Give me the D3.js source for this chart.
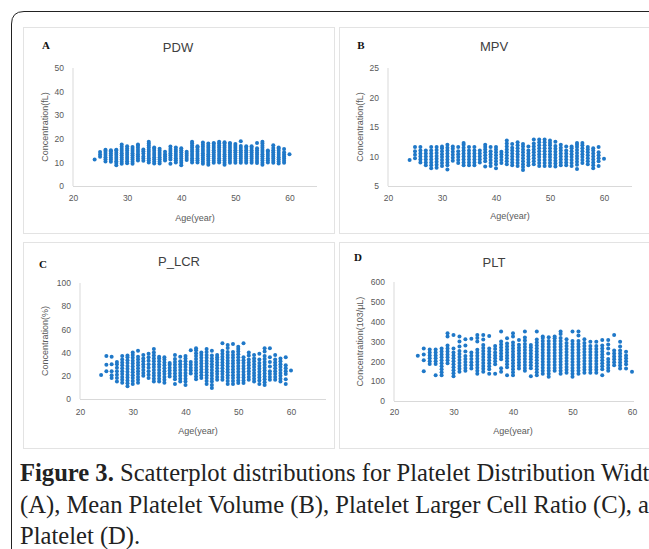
<!DOCTYPE html>
<html>
<head>
<meta charset="utf-8">
<script src="https://cdn.jsdelivr.net/npm/d3@7"></script>
<style>
  body { margin: 0; background: #fff; }
  svg { display: block; }
  .tick text { font-family: "Liberation Sans", Arial, sans-serif; font-size: 8.5px; fill: #595959; }
</style>
</head>
<body>
<svg id="chart" width="649" height="549"></svg>
<script>
// ages on the x axis (one column of dots per age)
const ages = d3.range(24, 61)

const xTicks = [20, 30, 40, 50, 60]

// PDW (fL)
const pdwValues = [
  [11.2],
  [12.4, 13.3, 14.4],
  [10.4, 11.3, 12.2, 13.1, 14.0, 14.8, 15.4],
  [10.3, 11.2, 12.1, 13.0, 13.9, 14.7, 15.2],
  [8.8, 9.7, 10.5, 11.4, 12.3, 13.2, 14.1, 15.0, 15.4],
  [9.4, 10.3, 11.2, 12.1, 13.0, 13.9, 14.8, 15.7, 16.6, 17.6],
  [9.6, 10.5, 11.4, 12.3, 13.2, 14.1, 15.0, 15.9, 16.8],
  [9.4, 10.3, 11.2, 12.1, 13.0, 13.9, 14.8, 15.7, 16.5],
  [10.8, 11.7, 12.6, 13.5, 14.4, 15.3, 16.2, 17.1, 17.6],
  [10.7, 11.6, 12.5, 13.8, 14.7, 15.5],
  [10.0, 10.9, 11.8, 12.7, 13.6, 14.5, 15.4, 16.3, 17.2, 18.0, 18.7],
  [9.5, 10.4, 11.3, 12.2, 13.1, 14.0, 14.9, 15.8, 16.3],
  [9.5, 10.4, 11.3, 12.2, 13.1, 14.0, 14.9, 15.8],
  [10.8, 11.7, 12.6, 13.5, 14.5],
  [9.4, 11.2, 12.1, 13.0, 13.9, 14.8, 15.7, 16.7],
  [10.0, 10.9, 11.8, 12.7, 13.6, 14.5, 15.4, 16.3],
  [8.8, 9.8, 10.7, 11.6, 12.5, 13.4, 14.3, 15.2, 16.0],
  [11.0, 11.9, 12.8, 13.7, 14.5],
  [10.0, 10.9, 11.8, 12.7, 13.6, 14.5, 15.4, 16.3, 17.2, 18.1, 18.7],
  [10.0, 10.9, 11.8, 12.7, 13.6, 14.5, 15.4, 16.3, 16.8],
  [9.4, 10.3, 11.2, 12.1, 13.0, 13.9, 14.8, 15.7, 16.6, 17.5, 18.4],
  [9.0, 9.9, 10.8, 11.7, 12.6, 13.5, 14.4, 15.3, 16.2, 17.1, 18.0],
  [9.8, 10.7, 11.6, 12.5, 13.4, 14.3, 15.2, 16.1, 17.0, 17.9, 18.2],
  [10.0, 10.9, 11.8, 12.7, 13.6, 14.5, 15.4, 16.3, 17.2, 18.1, 18.7],
  [9.0, 9.9, 10.8, 11.7, 12.6, 13.5, 14.4, 15.3, 16.2, 17.1, 18.0, 18.5],
  [9.8, 10.7, 11.6, 12.5, 13.4, 14.3, 15.2, 16.1, 17.0, 17.9, 18.2],
  [9.8, 10.7, 11.6, 12.5, 13.4, 14.3, 15.2, 16.1, 17.0, 17.8],
  [9.8, 10.7, 11.6, 12.5, 13.4, 14.3, 15.2, 16.1, 17.0, 19.0],
  [9.8, 10.7, 11.6, 12.5, 13.4, 14.3, 15.2, 16.1, 16.8],
  [9.8, 10.7, 11.6, 12.5, 13.4, 14.3, 15.2, 16.1, 16.8],
  [9.7, 10.6, 11.5, 12.4, 13.3, 14.2, 15.1, 16.0, 18.2],
  [9.0, 9.9, 10.8, 11.7, 12.6, 13.5, 14.4, 15.3, 16.2, 17.1, 18.0, 18.8],
  [10.0, 10.9, 11.8, 12.7, 13.6, 14.5, 15.0],
  [9.8, 10.7, 11.6, 12.5, 13.4, 14.3, 15.2, 16.1, 17.3],
  [9.5, 10.4, 11.3, 12.2, 13.1, 14.0, 14.9, 15.8, 16.3],
  [9.8, 10.7, 11.6, 12.5, 13.4, 14.3, 15.7],
  [13.5]
]

// MPV (fL)
const mpvValues = [
  [9.4],
  [9.7, 10.3, 10.9, 11.6],
  [9.0, 9.5, 10.0, 10.5, 11.0, 11.6],
  [8.5, 9.0, 9.5, 10.0, 10.5, 11.0],
  [8.0, 8.5, 9.0, 9.5, 10.0, 10.5, 11.0, 11.6],
  [8.1, 8.6, 9.1, 9.6, 10.1, 10.6, 11.1, 11.6],
  [8.4, 8.9, 9.4, 9.9, 10.4, 10.9, 11.4, 11.7],
  [7.8, 8.5, 9.0, 9.5, 10.0, 10.5, 11.0, 11.5, 12.0],
  [9.3, 9.8, 10.3, 10.8, 11.3, 11.7],
  [8.9, 9.4, 9.9, 10.4, 10.9, 11.6],
  [8.5, 9.0, 9.5, 10.0, 10.5, 11.0, 11.5, 12.0, 12.3],
  [8.5, 9.0, 9.5, 10.0, 10.5, 11.0, 11.6],
  [8.5, 9.0, 9.5, 10.0, 10.5, 11.0, 11.6],
  [9.0, 9.5, 10.0, 10.5, 11.0],
  [8.3, 9.2, 9.7, 10.2, 10.7, 11.2, 11.6, 12.0],
  [8.4, 8.9, 9.4, 9.9, 10.4, 10.9, 11.6],
  [8.0, 8.7, 9.2, 9.7, 10.2, 10.7, 11.2, 11.6],
  [8.9, 9.4, 9.9, 10.4, 10.8],
  [8.7, 9.2, 9.7, 10.2, 10.7, 11.2, 11.7, 12.2, 12.7],
  [8.5, 9.0, 9.5, 10.0, 10.5, 11.0, 11.5, 12.1],
  [8.4, 8.9, 9.4, 9.9, 10.4, 10.9, 11.4, 11.9, 12.4],
  [7.7, 8.2, 8.7, 9.2, 9.7, 10.2, 10.7, 11.2, 11.7, 12.1],
  [8.5, 9.0, 9.5, 10.0, 10.5, 11.0, 11.7],
  [8.7, 9.2, 9.7, 10.2, 10.7, 11.2, 11.7, 12.2, 12.9],
  [8.4, 8.9, 9.4, 9.9, 10.4, 10.9, 11.4, 11.9, 12.4, 12.9],
  [8.4, 8.9, 9.4, 9.9, 10.4, 10.9, 11.4, 11.9, 12.4, 12.9],
  [8.4, 8.9, 9.4, 9.9, 10.4, 10.9, 11.4, 11.9, 12.3, 12.7],
  [8.3, 8.8, 9.3, 9.8, 10.3, 10.8, 11.3, 11.8, 12.5],
  [8.5, 9.0, 9.5, 10.0, 10.5, 11.0, 11.5, 12.0],
  [8.5, 9.0, 9.5, 10.0, 10.5, 11.0, 11.7],
  [8.4, 8.9, 9.4, 9.9, 10.4, 10.9, 11.4, 11.7],
  [7.9, 8.6, 9.1, 9.6, 10.1, 10.6, 11.1, 11.6, 12.0, 12.3],
  [8.9, 9.4, 9.9, 10.4, 10.9, 11.4, 11.9, 12.3],
  [8.7, 9.2, 9.7, 10.2, 10.7, 11.2, 11.6],
  [8.0, 8.5, 9.0, 9.5, 10.0, 10.5, 11.0, 11.4],
  [8.4, 9.2, 9.7, 10.2, 10.7, 11.6],
  [9.6]
]

// P_LCR (%)
const plcrValues = [
  [20.6],
  [24, 29.5, 37],
  [18, 20.5, 24, 30, 36.5],
  [15, 18, 21, 24, 27, 30, 32],
  [14, 16.5, 19, 21.5, 24, 26.5, 29, 31.5, 34, 37],
  [11, 13.5, 16, 18.5, 21, 23.5, 26, 28.5, 31, 33.5, 36, 37.5],
  [13, 15.5, 18, 20.5, 23, 25.5, 28, 30.5, 33, 35.5, 38, 40],
  [14, 16.5, 19, 21.5, 24, 26.5, 29, 31.5, 34, 36.5, 41.7],
  [20, 22.5, 25, 27.5, 30, 32.5, 35, 38],
  [18, 21, 24, 27, 30, 33, 36, 39],
  [15, 17.5, 20, 22.5, 25, 27.5, 30, 32.5, 35, 37.5, 40, 43],
  [15, 17.5, 20, 22.5, 25, 27.5, 30, 32.5, 35, 36.5],
  [14, 16.5, 19, 21.5, 24, 26.5, 29, 31.5, 34, 36],
  [19.5, 22, 24.5, 27, 29.5, 31],
  [13, 17, 19.5, 22, 24.5, 27, 29.5, 32, 34.5, 38],
  [15, 17.5, 20, 22.5, 25, 27.5, 30, 32.5, 36.5],
  [12, 15, 17.5, 20, 22.5, 25, 27.5, 30, 32.5, 35, 37],
  [22, 24.5, 27, 29.5, 32, 42],
  [17, 19.5, 22, 24.5, 27, 29.5, 32, 34.5, 37, 39.5, 42, 43.7],
  [18, 20.5, 23, 25.5, 28, 30.5, 33, 35.5, 38, 40],
  [13, 15.5, 18, 20.5, 23, 25.5, 28, 30.5, 33, 35.5, 38, 40.5, 43],
  [9.4, 12, 15, 17.5, 20, 22.5, 25, 27.5, 30, 32.5, 35, 37.5, 41.7],
  [16.5, 19, 21.5, 24, 26.5, 29, 31.5, 34, 36, 38],
  [16.5, 19, 21.5, 24, 26.5, 29, 31.5, 34, 36.5, 39, 41.5, 48],
  [13, 15.5, 18, 20.5, 23, 25.5, 28, 30.5, 33, 35.5, 38, 40.5, 44, 46.5],
  [13, 15.5, 18, 20.5, 23, 25.5, 28, 30.5, 33, 35.5, 38, 40.5, 47.4],
  [13.7, 16, 18.5, 21, 23.5, 26, 28.5, 31, 33.5, 36, 38.5, 41, 43, 45],
  [13.7, 16, 18.5, 21, 23.5, 26, 28.5, 31, 33.5, 36, 48],
  [16.5, 19, 21.5, 24, 26.5, 29, 31.5, 34, 37.5, 40],
  [15, 17.5, 20, 22.5, 25, 27.5, 30, 32.5, 35, 38],
  [13, 16, 18.5, 21, 23.5, 26, 28.5, 31, 34, 39],
  [12, 14.5, 17, 19.5, 22, 24.5, 27, 29.5, 32, 34.5, 37, 41, 43.7],
  [16.5, 19, 21.5, 24, 28, 32, 36, 43.7],
  [16.5, 19, 21.5, 24, 26.5, 29, 31.5, 34, 38],
  [15, 17.5, 20, 22.5, 25, 27.5, 30, 32.5, 35],
  [13, 17, 21.5, 24, 26.5, 29, 36],
  [24.5]
]

// PLT (10^3/uL)
const pltValues = [
  [228],
  [150, 205, 235, 265],
  [186, 200, 215, 230, 245, 260],
  [130, 186, 200, 215, 230, 245, 260],
  [130, 145, 160, 175, 190, 205, 220, 235, 250, 265],
  [190, 205, 220, 235, 250, 265, 280, 325, 341],
  [125, 140, 155, 170, 185, 200, 215, 230, 245, 265, 333],
  [147, 162, 177, 192, 207, 222, 237, 252, 275, 300, 325],
  [152, 167, 182, 197, 212, 227, 250, 280, 311],
  [164, 180, 196, 212, 228, 244, 314],
  [138, 153, 168, 183, 198, 213, 228, 243, 258, 300, 318, 333],
  [147, 162, 177, 192, 207, 222, 237, 252, 267, 282, 310, 333],
  [138, 160, 175, 190, 205, 220, 235, 250, 265, 328],
  [138, 185, 200, 215, 230, 245, 262, 277],
  [147, 165, 210, 225, 240, 255, 270, 285, 300, 350],
  [130, 170, 185, 200, 215, 230, 245, 260, 275, 290, 316],
  [130, 145, 160, 175, 190, 205, 220, 235, 250, 265, 280, 295, 325, 341],
  [164, 179, 194, 209, 224, 239, 254, 269, 284, 307],
  [152, 167, 182, 197, 212, 227, 242, 257, 272, 287, 305, 320, 350],
  [125, 165, 180, 195, 210, 225, 240, 255, 270, 282],
  [130, 145, 160, 175, 190, 205, 220, 235, 250, 265, 280, 295, 310, 350],
  [138, 153, 168, 183, 198, 213, 228, 243, 258, 273, 288, 303, 318, 325],
  [122, 137, 152, 167, 182, 197, 212, 227, 242, 257, 272, 287, 302, 321],
  [152, 167, 182, 197, 212, 227, 242, 257, 272, 287, 302, 317, 325],
  [138, 153, 168, 183, 198, 213, 228, 243, 258, 273, 288, 303, 318, 338, 350],
  [142, 157, 172, 187, 202, 217, 232, 247, 262, 277, 292, 311],
  [122, 137, 152, 167, 182, 197, 212, 227, 242, 257, 272, 287, 302, 350],
  [138, 153, 168, 183, 198, 213, 228, 243, 258, 273, 288, 303, 330, 350],
  [142, 157, 172, 187, 202, 217, 232, 247, 262, 277, 292, 311],
  [142, 157, 172, 187, 202, 217, 232, 247, 262, 277, 299],
  [142, 157, 172, 187, 202, 217, 232, 247, 262, 277, 299],
  [130, 160, 175, 190, 205, 220, 235, 250, 265, 280, 307],
  [152, 167, 182, 197, 212, 240, 265, 285, 307],
  [180, 195, 210, 225, 240, 255, 333],
  [164, 179, 194, 209, 224, 239, 255, 275, 299],
  [164, 185, 200, 215, 230, 248],
  [147]
]

const panelLetters = ["A", "B", "C", "D"]
const panelTitles = ["PDW", "MPV", "P_LCR", "PLT"]
const yTitles = ["Concentration(fL)", "Concentration(fL)", "Concentration(%)", "Concentration(103/μL)"]
const yTicks = [
  [0, 10, 20, 30, 40, 50],
  [5, 10, 15, 20, 25],
  [0, 20, 40, 60, 80, 100],
  [0, 100, 200, 300, 400, 500, 600]
]

const captionLines = [
  ["Figure 3.", " Scatterplot distributions for Platelet Distribution Width"],
  ["", "(A), Mean Platelet Volume (B), Platelet Larger Cell Ratio (C), and"],
  ["", "Platelet (D)."]
]

// pixel layout of each panel (box, plot area, label spots)
const layout = [
  { box: [23, 27, 311, 206], x20: 73, x60: 289.5, xEnd: 317, yTop: 68, yBot: 186, letter: [46, 45], title: [178, 47], xt: [195, 218], tickY: 199, yt: 45 },
  { box: [339, 27, 312, 206], x20: 388, x60: 604, xEnd: 632, yTop: 68, yBot: 186, letter: [361, 45], title: [494, 46], xt: [510, 216], tickY: 199, yt: 360 },
  { box: [23, 242, 311, 206], x20: 80, x60: 291, xEnd: 326, yTop: 283, yBot: 399, letter: [43, 264], title: [179, 261], xt: [198, 431], tickY: 413, yt: 45 },
  { box: [339, 242, 312, 206], x20: 394, x60: 632, xEnd: 634, yTop: 282, yBot: 401, letter: [358, 257], title: [494, 262], xt: [513, 431], tickY: 413, yt: 360 }
]

const allValues = [pdwValues, mpvValues, plcrValues, pltValues]
const dotColor = "#1f78c8"
const axisColor = "#d9d9d9"

const svg = d3.select("#chart")

// outer frame with rounded top-left corner
svg.append("path")
  .attr("d", "M11.5,549 L11.5,24 Q11.5,11.5 24,11.5 L649,11.5")
  .attr("fill", "none")
  .attr("stroke", "#222")
  .attr("stroke-width", 1)

layout.forEach((L, i) => {
  const g = svg.append("g")

  g.append("rect")
    .attr("x", L.box[0] + 0.5).attr("y", L.box[1] + 0.5)
    .attr("width", L.box[2]).attr("height", L.box[3])
    .attr("fill", "#fff")
    .attr("stroke", "#e3e3e3")

  const ticks = yTicks[i]
  const x = d3.scaleLinear().domain([20, 60]).range([L.x20, L.x60])
  const y = d3.scaleLinear().domain([ticks[0], ticks[ticks.length - 1]]).range([L.yBot, L.yTop])

  // axis lines
  g.append("line")
    .attr("x1", L.x20).attr("x2", L.x20)
    .attr("y1", L.yTop).attr("y2", L.yBot)
    .attr("stroke", axisColor)
  g.append("line")
    .attr("x1", L.x20).attr("x2", L.xEnd)
    .attr("y1", L.yBot + 0.5).attr("y2", L.yBot + 0.5)
    .attr("stroke", axisColor)

  const yAxis = g.append("g")
    .attr("transform", `translate(${L.x20 - 9},0)`)
    .call(d3.axisLeft(y).tickValues(ticks).tickSize(0).tickPadding(0))
  yAxis.select(".domain").remove()

  const xAxis = g.append("g")
    .attr("transform", `translate(0,${L.tickY - 4})`)
    .call(d3.axisBottom(x).tickValues(xTicks).tickSize(0).tickPadding(0))
  xAxis.select(".domain").remove()

  // dots
  const points = ages.flatMap((a, j) => allValues[i][j].map(v => ({ age: a, value: v })))
  g.append("g")
    .selectAll("circle")
    .data(points)
    .join("circle")
    .attr("cx", d => x(d.age))
    .attr("cy", d => y(d.value))
    .attr("r", 2)
    .attr("fill", dotColor)

  g.append("text")
    .attr("x", L.title[0]).attr("y", L.title[1])
    .attr("text-anchor", "middle").attr("dominant-baseline", "central")
    .attr("font-family", "Liberation Sans, Arial, sans-serif")
    .attr("font-size", 13)
    .attr("fill", "#404040")
    .text(panelTitles[i])

  g.append("text")
    .attr("x", L.letter[0]).attr("y", L.letter[1])
    .attr("text-anchor", "middle").attr("dominant-baseline", "central")
    .attr("font-family", "Liberation Serif, Times New Roman, serif")
    .attr("font-weight", "bold")
    .attr("font-size", 11)
    .attr("fill", "#111")
    .text(panelLetters[i])

  g.append("text")
    .attr("x", L.xt[0]).attr("y", L.xt[1])
    .attr("text-anchor", "middle").attr("dominant-baseline", "central")
    .attr("font-family", "Liberation Sans, Arial, sans-serif")
    .attr("font-size", 9)
    .attr("fill", "#595959")
    .text("Age(year)")

  g.append("text")
    .attr("transform", `translate(${L.yt},${(L.yTop + L.yBot) / 2}) rotate(-90)`)
    .attr("text-anchor", "middle").attr("dominant-baseline", "central")
    .attr("font-family", "Liberation Sans, Arial, sans-serif")
    .attr("font-size", 9)
    .attr("fill", "#595959")
    .text(yTitles[i])
})

// caption (runs past the right edge, as in the source figure)
const cap = svg.append("g")
captionLines.forEach((ln, k) => {
  const t = cap.append("text")
    .attr("x", 20).attr("y", 481 + k * 31.5)
    .attr("font-family", "Liberation Serif, Times New Roman, serif")
    .attr("font-size", 24.6)
    .attr("fill", "#222")
  if (ln[0]) t.append("tspan").attr("font-weight", "bold").text(ln[0])
  t.append("tspan").text(ln[1])
})
</script>
</body>
</html>
